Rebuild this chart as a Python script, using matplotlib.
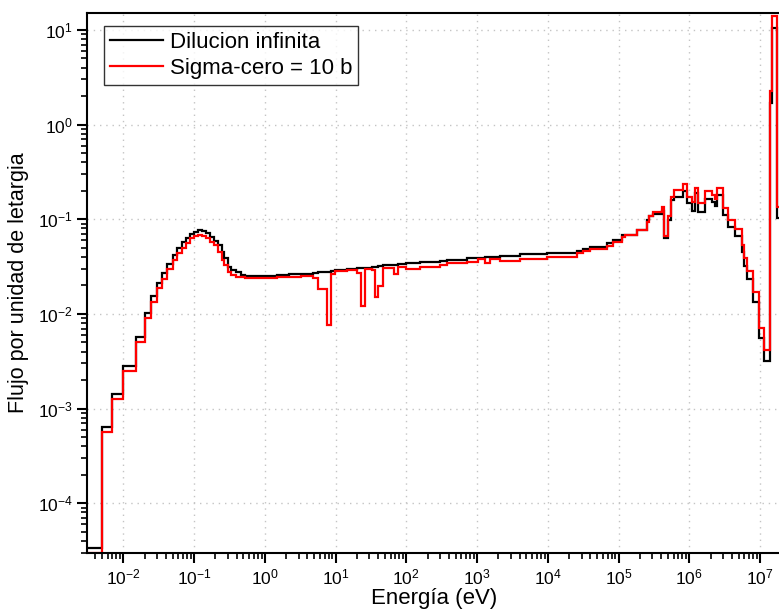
import matplotlib
matplotlib.use("Agg")
import matplotlib.pyplot as plt
from matplotlib.ticker import LogLocator, NullFormatter, FixedLocator, FixedFormatter

plt.rcParams['font.family'] = ['Liberation Sans', 'DejaVu Sans']
plt.rcParams['mathtext.fontset'] = 'custom'
plt.rcParams['mathtext.rm'] = 'Liberation Sans'
plt.rcParams['mathtext.it'] = 'Liberation Sans'
plt.rcParams['mathtext.default'] = 'regular'

# Energy group boundaries (eV)
edges = [3.0e-3, 5.0e-3, 6.9e-3, 1.0e-2, 1.5e-2, 2.0e-2, 2.5e-2, 3.0e-2, 3.5e-2, 4.2e-2,
         5.0e-2, 5.8e-2, 6.7e-2, 7.7e-2, 8.7e-2, 0.10, 0.115, 0.13, 0.15, 0.17,
         0.19, 0.22, 0.245, 0.265, 0.30, 0.335, 0.395, 0.455, 0.52, 0.625,
         1.0, 1.5, 2.2, 3.3, 4.85, 5.7, 7.5, 8.5, 9.8, 14.4,
         19.9, 22.9, 26.1, 32.4, 36.1, 40.2, 46.4, 67.0, 77.0, 100.0,
         156.0, 300.0, 372.0, 714.0, 1042.0, 1296.0, 1524.0, 2110.0, 4045.0, 9650.0,
         2.56e4, 3.18e4, 3.95e4, 5.46e4, 6.79e4, 8.43e4, 1.107e5, 1.233e5, 1.80e5, 2.50e5,
         2.72e5, 3.04e5, 4.07e5, 4.44e5, 4.95e5, 5.46e5, 6.08e5, 8.22e5, 9.38e5, 1.08e6,
         1.205e6, 1.34e6, 1.667e6, 2.075e6, 2.307e6, 2.489e6, 2.965e6, 3.556e6, 4.426e6, 5.495e6,
         5.98e6, 6.47e6, 8.04e6, 9.75e6, 1.148e7, 1.38e7, 1.462e7, 1.718e7, 1.96e7]

# Flux per unit lethargy, infinite dilution
flux_inf = [3.4e-5, 6.4e-4, 1.43e-3, 2.8e-3, 5.7e-3, 1.03e-2, 1.55e-2, 2.1e-2, 2.7e-2, 3.4e-2,
            4.2e-2, 5.0e-2, 5.7e-2, 6.3e-2, 7.0e-2, 7.4e-2, 7.7e-2, 7.6e-2, 7.1e-2, 6.55e-2,
            5.95e-2, 5.35e-2, 4.55e-2, 3.9e-2, 3.15e-2, 2.92e-2, 2.76e-2, 2.6e-2, 2.52e-2, 2.49e-2,
            2.53e-2, 2.57e-2, 2.62e-2, 2.67e-2, 2.71e-2, 2.74e-2, 2.78e-2, 2.81e-2, 2.89e-2, 2.97e-2,
            3.02e-2, 3.05e-2, 3.09e-2, 3.13e-2, 3.16e-2, 3.19e-2, 3.25e-2, 3.31e-2, 3.36e-2, 3.42e-2,
            3.52e-2, 3.62e-2, 3.72e-2, 3.86e-2, 3.93e-2, 3.97e-2, 4.01e-2, 4.1e-2, 4.25e-2, 4.42e-2,
            4.67e-2, 4.8e-2, 5.06e-2, 5.14e-2, 5.67e-2, 6.05e-2, 6.83e-2, 6.9e-2, 7.75e-2, 9.85e-2,
            0.108, 0.114, 0.122, 6.35e-2, 9.85e-2, 0.158, 0.172, 0.197, 0.147, 0.123,
            0.188, 0.119, 0.162, 0.153, 0.139, 0.181, 0.111, 8.36e-2, 6.71e-2, 4.55e-2,
            3.21e-2, 2.32e-2, 1.35e-2, 5.54e-3, 3.19e-3, 1.68, 10.4, 0.103]

# Flux per unit lethargy, sigma-zero = 10 b
flux_s10 = [3.0e-5, 5.7e-4, 1.26e-3, 2.48e-3, 5.0e-3, 9.1e-3, 1.35e-2, 1.87e-2, 2.36e-2, 2.97e-2,
            3.72e-2, 4.45e-2, 5.02e-2, 5.68e-2, 6.31e-2, 6.67e-2, 6.83e-2, 6.67e-2, 6.31e-2, 5.8e-2,
            5.29e-2, 4.56e-2, 3.72e-2, 3.29e-2, 2.76e-2, 2.58e-2, 2.48e-2, 2.45e-2, 2.41e-2, 2.38e-2,
            2.41e-2, 2.44e-2, 2.48e-2, 2.52e-2, 2.42e-2, 1.82e-2, 7.65e-3, 2.65e-2, 2.83e-2, 2.88e-2,
            2.70e-2, 1.22e-2, 2.95e-2, 2.90e-2, 1.50e-2, 1.99e-2, 3.05e-2, 2.65e-2, 3.10e-2, 2.98e-2,
            3.11e-2, 3.26e-2, 3.42e-2, 3.54e-2, 3.78e-2, 3.48e-2, 3.84e-2, 3.66e-2, 3.78e-2, 3.97e-2,
            4.38e-2, 4.59e-2, 4.89e-2, 4.82e-2, 5.25e-2, 5.8e-2, 6.45e-2, 6.83e-2, 7.71e-2, 9.44e-2,
            0.108, 0.120, 0.134, 6.64e-2, 0.108, 0.173, 0.204, 0.236, 0.170, 0.153,
            0.212, 0.150, 0.201, 0.181, 0.162, 0.216, 0.130, 9.85e-2, 7.85e-2, 5.35e-2,
            3.87e-2, 2.86e-2, 1.72e-2, 7.1e-3, 4.17e-3, 2.24, 13.9, 0.134]

labels = ["Dilucion infinita", "Sigma-cero = 10 b"]
xticks = [1e-2, 1e-1, 1e0, 1e1, 1e2, 1e3, 1e4, 1e5, 1e6, 1e7]
xticklabels = ["$10^{-2}$", "$10^{-1}$", "$10^{0}$", "$10^{1}$", "$10^{2}$",
               "$10^{3}$", "$10^{4}$", "$10^{5}$", "$10^{6}$", "$10^{7}$"]
yticks = [1e-4, 1e-3, 1e-2, 1e-1, 1e0, 1e1]
yticklabels = ["$10^{-4}$", "$10^{-3}$", "$10^{-2}$", "$10^{-1}$", "$10^{0}$", "$10^{1}$"]

assert len(flux_inf) == len(edges) - 1
assert len(flux_s10) == len(edges) - 1

W, H = 779, 610
fig = plt.figure(figsize=(W / 100, H / 100), dpi=100)
ax = fig.add_axes([86.7 / W, (H - 552.7) / H, (780.7 - 86.7) / W, (552.7 - 13.3) / H])

ax.stairs(flux_inf, edges, color='black', lw=1.6, label=labels[0], baseline=None)
ax.stairs(flux_s10, edges, color='#ff0000', lw=1.6, label=labels[1], baseline=None)

ax.set_xscale('log')
ax.set_yscale('log')
ax.set_xlim(3.04e-3, 1.96e7)
ax.set_ylim(3.0e-5, 15.0)

ax.xaxis.set_major_locator(FixedLocator(xticks))
ax.xaxis.set_major_formatter(FixedFormatter(xticklabels))
ax.yaxis.set_major_locator(FixedLocator(yticks))
ax.yaxis.set_major_formatter(FixedFormatter(yticklabels))
ax.xaxis.set_minor_locator(LogLocator(base=10, subs=range(2, 10), numticks=30))
ax.yaxis.set_minor_locator(LogLocator(base=10, subs=range(2, 10), numticks=30))
ax.xaxis.set_minor_formatter(NullFormatter())
ax.yaxis.set_minor_formatter(NullFormatter())

ax.tick_params(which='major', direction='out', length=7, width=1.5, labelsize=12.5)
ax.tick_params(which='minor', direction='out', length=4, width=1.2)
ax.tick_params(axis='x', pad=4)
ax.tick_params(axis='y', pad=3)
for s in ax.spines.values():
    s.set_linewidth(1.5)

ax.grid(True, which='major', linestyle=(0, (1, 3.5)), color='#c4c4c4', lw=1.0)
ax.set_axisbelow(True)

ax.set_xlabel("Energía (eV)", fontsize=16, labelpad=0)
ax.set_ylabel("Flujo por unidad de letargia", fontsize=15.5, labelpad=6)

leg = ax.legend(loc='upper left', bbox_to_anchor=((104 - 86.7) / 694, (552.7 - 26) / 539.4),
                borderaxespad=0, fontsize=16, frameon=True, fancybox=False,
                edgecolor='black', handlelength=2.4, handletextpad=0.3,
                labelspacing=0.25, borderpad=0.25)
leg.get_frame().set_linewidth(1.0)

fig.savefig("out.png", dpi=100)
